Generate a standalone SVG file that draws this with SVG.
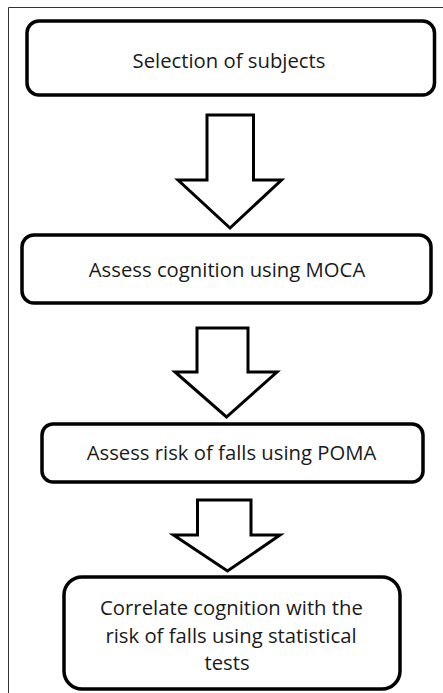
<svg xmlns="http://www.w3.org/2000/svg" width="443" height="693" viewBox="0 0 443 693">
<style>
.frame{fill:none;stroke:#333;stroke-width:1}
.box{fill:#fff;stroke:#000;stroke-width:3.5}
.arrow{fill:#fff;stroke:#000;stroke-width:3;stroke-linejoin:miter}
.t{font-family:"Open Sans","Liberation Sans",sans-serif;font-size:20.3px;fill:#1a1a1a;text-anchor:middle}
</style>
<rect width="443" height="693" fill="#fff"/>
<path class="frame" d="M8.5,693 V7.5 H443"/>
<g id="node1">
<rect class="box" x="27" y="21" width="407.5" height="74" rx="12"/>
<text class="t" x="229" y="68">Selection of subjects</text>
</g>
<g id="node2">
<rect class="box" x="22" y="235" width="409" height="68" rx="12"/>
<text class="t" x="227" y="277">Assess cognition using MOCA</text>
</g>
<g id="node3">
<rect class="box" x="42" y="424" width="381" height="58" rx="11"/>
<text class="t" x="231.5" y="459.5">Assess risk of falls using POMA</text>
</g>
<g id="node4">
<rect class="box" x="64" y="577" width="336" height="112" rx="18"/>
<text class="t" x="231.5" y="615">Correlate cognition with the</text>
<text class="t" x="231" y="643">risk of falls using statistical</text>
<text class="t" x="227" y="670">tests</text>
</g>
<g id="connectors">
<path class="arrow" d="M207,115 H253.5 V180 H281.5 L230,228 L178,180 H207 Z"/>
<path class="arrow" d="M197,328 H248 V372 H277 L226.5,417 L175,372 H197 Z"/>
<path class="arrow" d="M197.5,500 H251 V535 H280 L227.5,571 L173.5,535 H197.5 Z"/>
</g>
</svg>
